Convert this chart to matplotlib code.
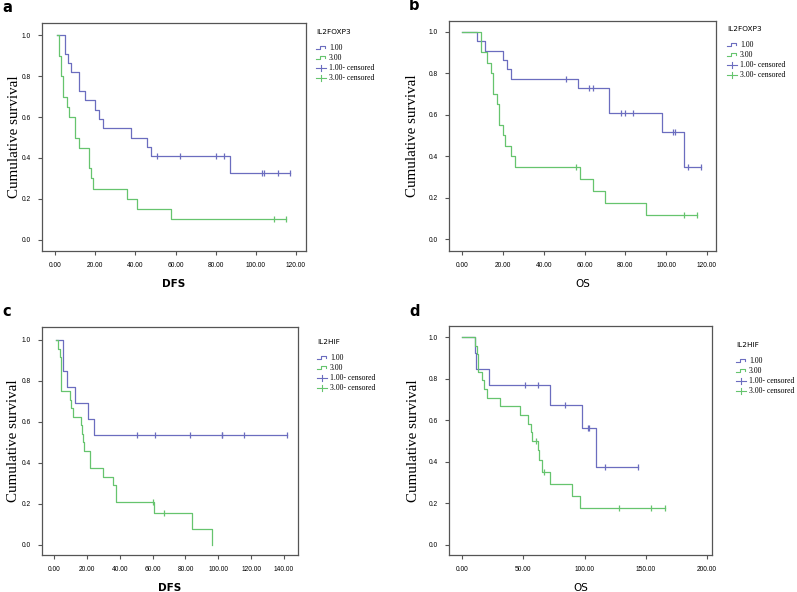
import matplotlib
matplotlib.use("Agg")
import matplotlib.pyplot as plt

W, H = 797, 592

BLUE = "#6b6dbf"
GREEN = "#66c46e"
EDGE = "#555555"

# --- panel a : IL2FOXP3, DFS ---
a_t1 = [1, 5, 6.6, 7.8, 12, 15, 20, 22, 24, 38, 46, 48, 87, 117]
a_s1 = [1, .909, .864, .818, .727, .682, .636, .591, .545, .5, .455, .409, .327, .327]
a_c1_t = [51, 62, 80, 84, 103, 104, 111, 117]
a_c1_s = [.409, .409, .409, .409, .327, .327, .327, .327]
a_t3 = [1, 2, 3, 4, 6, 7, 10, 12, 17, 18, 19, 36, 41, 58, 115]
a_s3 = [1, .9, .8, .7, .65, .6, .5, .45, .35, .3, .25, .2, .15, .1, .1]
a_c3_t = [109, 115]
a_c3_s = [.1, .1]

# --- panel b : IL2FOXP3, OS ---
b_t1 = [0, 7, 11, 20, 22, 24, 57, 72, 98, 109, 117]
b_s1 = [1, .955, .909, .864, .818, .773, .727, .606, .519, .346, .346]
b_c1_t = [51, 62, 64, 78, 80, 84, 103.5, 104.5, 111, 117]
b_c1_s = [.773, .727, .727, .606, .606, .606, .519, .519, .346, .346]
b_t3 = [0, 9, 12, 14, 15, 17, 18, 20, 21, 24, 26, 58, 64, 70, 90, 115]
b_s3 = [1, .9, .85, .8, .7, .65, .55, .5, .45, .4, .35, .292, .233, .175, .117, .117]
b_c3_t = [56, 109, 115]
b_c3_s = [.35, .117, .117]

# --- panel c : IL2HIF, DFS ---
c_t1 = [1, 5.5, 8, 12.8, 20.5, 24.5, 142]
c_s1 = [1, .846, .769, .692, .615, .538, .538]
c_c1_t = [50.5, 61.5, 83, 102, 102.5, 115.5, 142]
c_c1_s = [.538] * 7
c_t3 = [1, 2.5, 3.5, 4, 4.5, 10, 10.5, 11.6, 16.5, 17, 17.5, 18, 22, 30, 36, 38, 61, 84, 96]
c_s3 = [1, .958, .917, .833, .75, .708, .667, .625, .583, .542, .5, .458, .375, .333, .292, .208, .156, .078, 0]
c_c3_t = [60, 67]
c_c3_s = [.208, .156]

# --- panel d : IL2HIF, OS ---
d_t1 = [0, 10, 11, 22, 72, 98, 109, 144]
d_s1 = [1, .923, .846, .769, .673, .561, .374, .374]
d_c1_t = [51, 62, 84, 103, 104, 117, 144]
d_c1_s = [.769, .769, .673, .561, .561, .374, .374]
d_t3 = [0, 10.5, 12, 13, 16, 18, 20.5, 30.5, 47, 54, 56, 57, 62, 63, 65, 72, 90, 96, 166]
d_s3 = [1, .958, .917, .833, .792, .75, .708, .667, .625, .583, .542, .5, .455, .409, .352, .293, .234, .176, .176]
d_c3_t = [60, 66.5, 128, 154, 166]
d_c3_s = [.5, .352, .176, .176, .176]

y_ticks = [0.0, 0.2, 0.4, 0.6, 0.8, 1.0]
legend_labels = ["1.00", "3.00", "1.00- censored", "3.00- censored"]

fig = plt.figure(figsize=(W / 100, H / 100), dpi=100)


def px_axes(l, t, r, b):
    return fig.add_axes([l / W, 1 - b / H, (r - l) / W, (b - t) / H])


def draw_panel(box, letter, xlab, bold, xlim, xticks, ylim,
               t1, s1, c1t, c1s, t3, s3, c3t, c3s, leg_title, leg_pos, ylab_off):
    ax = px_axes(*box)
    ax.step(t1, s1, where="post", color=BLUE, lw=0.9)
    ax.step(t3, s3, where="post", color=GREEN, lw=0.9)
    ax.plot(c1t, c1s, ls="none", marker="|", ms=4, mew=0.9, color=BLUE)
    ax.plot(c3t, c3s, ls="none", marker="|", ms=4, mew=0.9, color=GREEN)
    ax.set_xlim(*xlim)
    ax.set_ylim(*ylim)
    ax.set_xticks(xticks)
    ax.set_xticklabels([f"{v:.2f}" for v in xticks])
    ax.set_yticks(y_ticks)
    ax.set_yticklabels([f"{v:.1f}" for v in y_ticks])
    ax.tick_params(labelsize=4.8, length=3, width=0.8, color=EDGE, pad=5)
    for lab in ax.get_xticklabels() + ax.get_yticklabels():
        lab.set_family("Liberation Sans")
    for sp in ax.spines.values():
        sp.set_color(EDGE)
        sp.set_linewidth(0.9)
    l, t, r, b = box
    ax.set_ylabel("Cumulative survival", family="Liberation Serif", fontsize=10.8)
    ax.yaxis.set_label_coords(ylab_off / (r - l), 0.5)
    ax.set_xlabel(xlab, family="DejaVu Sans", fontsize=7.5,
                  fontweight="bold" if bold else "normal", labelpad=7)

    fig.text((l - 40) / W, 1 - (t - 15) / H, letter, fontsize=10.5, fontweight="bold",
             va="center", ha="left")

    # legend drawn by hand, SPSS style
    lx, ly = leg_pos
    fx = lambda x: x / W
    fy = lambda y: 1 - y / H
    fig.text(fx(lx), fy(ly), leg_title, fontsize=5.3, family="DejaVu Sans",
             va="center", ha="left")
    rows = [ly + 16, ly + 26, ly + 36, ly + 46]
    for i, (lab, yy) in enumerate(zip(legend_labels, rows)):
        col = BLUE if i % 2 == 0 else GREEN
        if i < 2:
            xs = [lx, lx + 4, lx + 4, lx + 9, lx + 9]
            ys = [yy + 1, yy + 1, yy - 2, yy - 2, yy]
            fig.lines.append(plt.Line2D([fx(x) for x in xs], [fy(y) for y in ys],
                                        transform=fig.transFigure, color=col, lw=0.8))
        else:
            fig.lines.append(plt.Line2D([fx(lx), fx(lx + 10)], [fy(yy), fy(yy)],
                                        transform=fig.transFigure, color=col, lw=0.8))
            fig.lines.append(plt.Line2D([fx(lx + 5), fx(lx + 5)], [fy(yy - 3), fy(yy + 3)],
                                        transform=fig.transFigure, color=col, lw=0.8))
        fig.text(fx(lx + 13), fy(yy), lab, fontsize=5.6, family="Liberation Serif",
                 va="center", ha="left")
    return ax


draw_panel((42, 23, 306, 251), "a", "DFS", True, (-6.5, 125),
           [0, 20, 40, 60, 80, 100, 120], (-0.054, 1.059),
           a_t1, a_s1, a_c1_t, a_c1_s, a_t3, a_s3, a_c3_t, a_c3_s,
           "IL2FOXP3", (316, 32), -21)
draw_panel((449, 21, 716, 251), "b", "OS", False, (-6.5, 124.5),
           [0, 20, 40, 60, 80, 100, 120], (-0.056, 1.051),
           b_t1, b_s1, b_c1_t, b_c1_s, b_t3, b_s3, b_c3_t, b_c3_s,
           "IL2FOXP3", (727, 29), -30)
draw_panel((42, 327, 298, 555), "c", "DFS", True, (-7.3, 148.5),
           [0, 20, 40, 60, 80, 100, 120, 140], (-0.05, 1.063),
           c_t1, c_s1, c_c1_t, c_c1_s, c_t3, c_s3, c_c3_t, c_c3_s,
           "IL2HIF", (317, 342), -22)
draw_panel((449, 326, 712, 555), "d", "OS", False, (-10.9, 204.3),
           [0, 50, 100, 150, 200], (-0.05, 1.054),
           d_t1, d_s1, d_c1_t, d_c1_s, d_t3, d_s3, d_c3_t, d_c3_s,
           "IL2HIF", (736, 345), -29)

fig.savefig("out.png", dpi=100)
